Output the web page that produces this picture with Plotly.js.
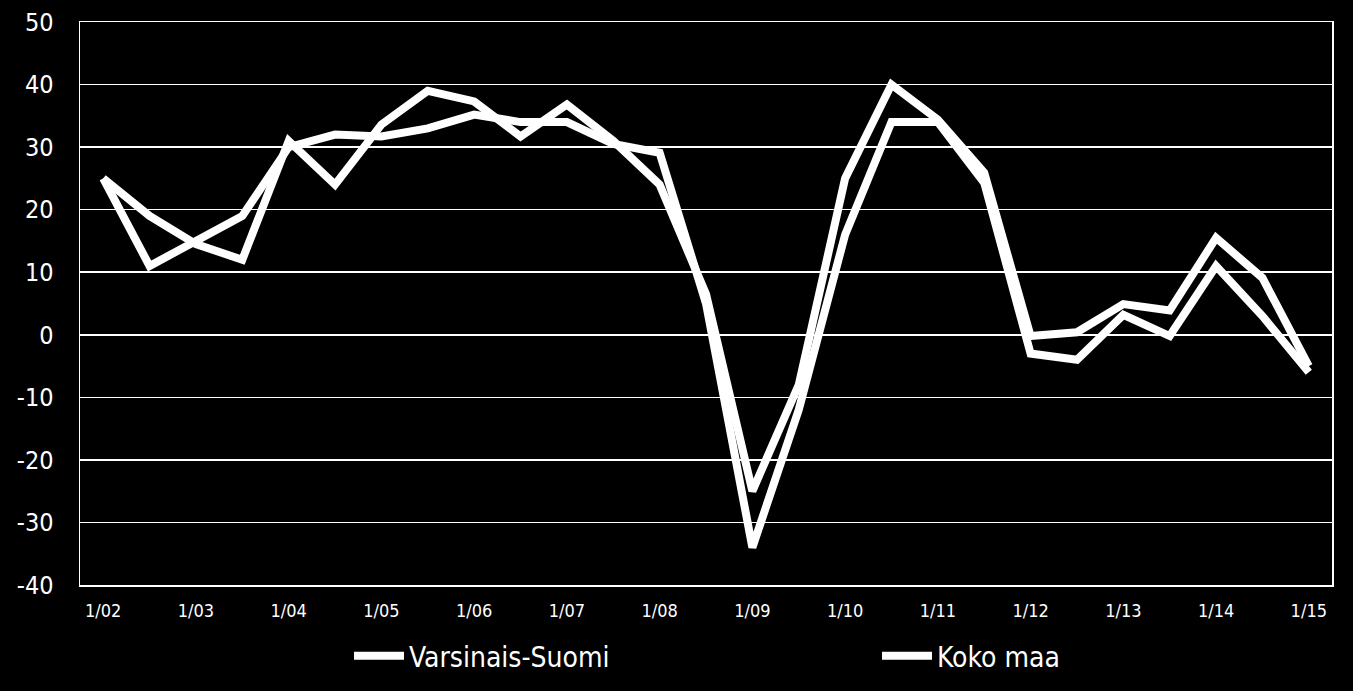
<!DOCTYPE html>
<html>
<head>
<meta charset="utf-8">
<script src="https://cdn.plot.ly/plotly-3.0.1.min.js"></script>
<style>
html,body{margin:0;padding:0;background:#000;}
#chart{width:1353px;height:691px;}
</style>
</head>
<body>
<div id="chart"></div>
<script>
// Half-year periods 1/02 ... 1/15 (27 points)
const periods = ["1/02","7/02","1/03","7/03","1/04","7/04","1/05","7/05","1/06","7/06","1/07","7/07","1/08","7/08","1/09","7/09","1/10","7/10","1/11","7/11","1/12","7/12","1/13","7/13","1/14","7/14","1/15"];
const tickLabels = ["1/02","1/03","1/04","1/05","1/06","1/07","1/08","1/09","1/10","1/11","1/12","1/13","1/14","1/15"];
const yTickValues = [-40, -30, -20, -10, 0, 10, 20, 30, 40, 50];
const yTickLabels = ["-40", "-30", "-20", "-10", "0", "10", "20", "30", "40", "50"];
const varsinaisSuomi = [25, 19, 14.5, 12, 31, 24, 33.6, 39, 37.3, 31.7, 36.8, 31, 24, 6.5, -25, -8, 25, 40, 34.4, 25.9, -0.2, 0.4, 4.9, 3.9, 15.5, 9.1, -5];
const kokoMaa = [25, 11, 15, 19, 30, 32, 31.7, 33, 35.2, 34, 34, 30.5, 29.1, 5, -34, -12, 16, 34, 34, 24.3, -3, -4, 3.2, -0.2, 11, 3, -6];

const xIdx = periods.map((_, i) => i);
const tickVals = tickLabels.map(t => periods.indexOf(t));

const lineStyle = {color: "#ffffff", width: 8, shape: "linear"};
const traces = [
  {x: xIdx, y: varsinaisSuomi, name: "Varsinais-Suomi", type: "scatter", mode: "lines", line: lineStyle, legend: "legend"},
  {x: xIdx, y: kokoMaa, name: "Koko maa", type: "scatter", mode: "lines", line: lineStyle, legend: "legend2"}
];

const legendFont = {family: "DejaVu Sans Condensed, DejaVu Sans, sans-serif", size: 28, color: "#ffffff"};
const W = 1353, H = 691;
const legY = 1 - 631 / H;

const layout = {
  width: W, height: H,
  paper_bgcolor: "#000000", plot_bgcolor: "#000000",
  margin: {l: 80, r: 21, t: 22, b: 106, autoexpand: false},
  showlegend: true,
  legend: {
    orientation: "h", xref: "container", yref: "container",
    x: 349 / W, xanchor: "left", y: legY, yanchor: "top",
    font: legendFont, itemwidth: 50, bgcolor: "rgba(0,0,0,0)"
  },
  legend2: {
    orientation: "h", xref: "container", yref: "container",
    x: 877 / W, xanchor: "left", y: legY, yanchor: "top",
    font: legendFont, itemwidth: 50, bgcolor: "rgba(0,0,0,0)"
  },
  xaxis: {
    range: [-0.5, 26.5], tickmode: "array", tickvals: tickVals, ticktext: tickLabels,
    showgrid: false, zeroline: false, showline: true, linecolor: "#ffffff", linewidth: 1.5, mirror: true,
    ticks: "", ticklabelstandoff: 9,
    tickfont: {family: "DejaVu Sans Condensed, DejaVu Sans, sans-serif", size: 18, color: "#ffffff"},
    fixedrange: true
  },
  yaxis: {
    range: [-40, 50], tickmode: "array", tickvals: yTickValues, ticktext: yTickLabels,
    showgrid: true, gridcolor: "#ffffff", gridwidth: 1.5,
    zeroline: false, showline: true, linecolor: "#ffffff", linewidth: 1.5, mirror: true,
    ticks: "", ticklabelstandoff: 20,
    tickfont: {family: "DejaVu Sans Condensed, DejaVu Sans, sans-serif", size: 25, color: "#ffffff"},
    fixedrange: true
  }
};

Plotly.newPlot("chart", traces, layout, {displayModeBar: false, staticPlot: true});
</script>
</body>
</html>
